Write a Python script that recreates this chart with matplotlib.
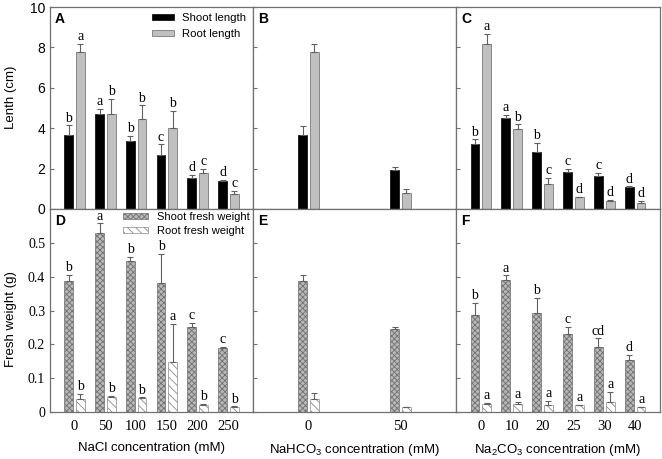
import numpy as np
import matplotlib.pyplot as plt

plt.rcParams["font.family"] = ["Liberation Sans", "DejaVu Sans"]
plt.rcParams["mathtext.default"] = "regular"
plt.rcParams["hatch.linewidth"] = 0.6

SERIF = ["Liberation Serif", "DejaVu Serif"]

# lengths (cm)
nacl_conc = ["0", "50", "100", "150", "200", "250"]
nahco3_conc = ["0", "50"]
na2co3_conc = ["0", "10", "20", "25", "30", "40"]

a_shoot = [3.68, 4.70, 3.38, 2.66, 1.52, 1.39]
a_shoot_err = [0.46, 0.25, 0.23, 0.54, 0.16, 0.06]
a_root = [7.75, 4.70, 4.44, 4.00, 1.78, 0.76]
a_root_err = [0.44, 0.76, 0.69, 0.87, 0.22, 0.13]
a_shoot_sig = ["b", "a", "b", "c", "d", "d"]
a_root_sig = ["a", "b", "b", "b", "c", "c"]

b_shoot = [3.68, 1.94]
b_shoot_err = [0.45, 0.13]
b_root = [7.75, 0.81]
b_root_err = [0.44, 0.16]

c_shoot = [3.22, 4.49, 2.80, 1.84, 1.63, 1.09]
c_shoot_err = [0.23, 0.16, 0.49, 0.15, 0.15, 0.03]
c_root = [8.19, 3.96, 1.23, 0.59, 0.41, 0.31]
c_root_err = [0.49, 0.23, 0.30, 0.02, 0.03, 0.08]
c_shoot_sig = ["b", "a", "b", "c", "c", "d"]
c_root_sig = ["a", "b", "c", "d", "d", "d"]

# fresh weights (g)
d_shoot = [0.387, 0.530, 0.447, 0.382, 0.250, 0.190]
d_shoot_err = [0.018, 0.028, 0.012, 0.085, 0.013, 0.003]
d_root = [0.038, 0.045, 0.042, 0.148, 0.022, 0.015]
d_root_err = [0.016, 0.002, 0.001, 0.112, 0.003, 0.002]
d_shoot_sig = ["b", "a", "b", "b", "c", "c"]
d_root_sig = ["b", "b", "b", "a", "b", "b"]

e_shoot = [0.387, 0.245]
e_shoot_err = [0.018, 0.006]
e_root = [0.038, 0.015]
e_root_err = [0.017, 0.001]

f_shoot = [0.287, 0.390, 0.292, 0.230, 0.193, 0.155]
f_shoot_err = [0.036, 0.014, 0.045, 0.021, 0.025, 0.013]
f_root = [0.025, 0.024, 0.022, 0.020, 0.030, 0.014]
f_root_err = [0.003, 0.006, 0.011, 0.001, 0.029, 0.001]
f_shoot_sig = ["b", "a", "b", "c", "cd", "d"]
f_root_sig = ["a", "a", "a", "a", "a", "a"]

W = 0.28
OFF = 0.19
SPINE = "#707070"
ERR = "#606060"

STYLE_LEN = [
    dict(color="black", edgecolor="black", linewidth=0.5),
    dict(color="#c0c0c0", edgecolor="#7a7a7a", linewidth=0.6),
]
STYLE_FW = [
    dict(color="#b8b8b8", edgecolor="#707070", hatch="xxxxxx", linewidth=0.5),
    dict(color="white", edgecolor="#8a8a8a", hatch="\\\\\\\\", linewidth=0.5),
]


def draw_panel(ax, pos, shoot, shoot_err, root, root_err, styles, labels,
               shoot_sig=None, root_sig=None):
    pos = np.asarray(pos, dtype=float)
    for k, (vals, errs) in enumerate([(shoot, shoot_err), (root, root_err)]):
        x = pos - OFF if k == 0 else pos + OFF
        ax.bar(x, vals, W, label=labels[k], zorder=2, **styles[k])
        ax.errorbar(x, vals, yerr=[np.zeros(len(vals)), errs], fmt="none",
                    ecolor=ERR, elinewidth=0.8, capsize=2.2, capthick=0.8, zorder=3)
        sig = shoot_sig if k == 0 else root_sig
        if sig:
            for xi, v, e, s in zip(x, vals, errs, sig):
                ax.annotate(s, (xi, v + e), xytext=(0, 0.5), textcoords="offset points",
                            ha="center", va="bottom", family=SERIF, fontsize=10)


def style_axes(ax, letter):
    for sp in ax.spines.values():
        sp.set_color(SPINE)
        sp.set_linewidth(0.9)
    ax.tick_params(axis="y", direction="in", length=3, color=SPINE, labelsize=10)
    ax.tick_params(axis="x", length=0)
    ax.text(0.025, 0.975, letter, transform=ax.transAxes, ha="left", va="top",
            fontsize=10, fontweight="bold")


fig = plt.figure(figsize=(6.62, 4.59), dpi=100)
FW, FH = 662, 459
lefts = [50, 253, 456]
widths = [203, 203, 204]
axes = {}
for r, (top, bottom) in enumerate([(7, 209), (209, 412)]):
    for c in range(3):
        ax = fig.add_axes([lefts[c] / FW, 1 - bottom / FH, widths[c] / FW, (bottom - top) / FH])
        axes[(r, c)] = ax

six = np.arange(6)
two = np.array([0, 3])
len_labels = ["Shoot length", "Root length"]
fw_labels = ["Shoot fresh weight", "Root fresh weight"]

# top row
draw_panel(axes[(0, 0)], six, a_shoot, a_shoot_err, a_root, a_root_err, STYLE_LEN, len_labels,
           a_shoot_sig, a_root_sig)
draw_panel(axes[(0, 1)], two, b_shoot, b_shoot_err, b_root, b_root_err, STYLE_LEN, len_labels)
draw_panel(axes[(0, 2)], six, c_shoot, c_shoot_err, c_root, c_root_err, STYLE_LEN, len_labels,
           c_shoot_sig, c_root_sig)

# bottom row
draw_panel(axes[(1, 0)], six, d_shoot, d_shoot_err, d_root, d_root_err, STYLE_FW, fw_labels,
           d_shoot_sig, d_root_sig)
draw_panel(axes[(1, 1)], two, e_shoot, e_shoot_err, e_root, e_root_err, STYLE_FW, fw_labels)
draw_panel(axes[(1, 2)], six, f_shoot, f_shoot_err, f_root, f_root_err, STYLE_FW, fw_labels,
           f_shoot_sig, f_root_sig)

for (r, c), ax in axes.items():
    style_axes(ax, "ABCDEF"[r * 3 + c])
    if c == 1:
        ax.set_xlim(-1.8, 4.8)
    else:
        ax.set_xlim(-0.8, 5.8)
    if r == 0:
        ax.set_ylim(0, 10)
        ax.set_yticks([0, 2, 4, 6, 8, 10])
        ax.set_xticks([])
    else:
        ax.set_ylim(0, 0.6)
        ax.set_yticks([0, 0.1, 0.2, 0.3, 0.4, 0.5])
        ax.set_yticklabels(["0", "0.1", "0.2", "0.3", "0.4", "0.5"], family=SERIF)
    if c > 0:
        ax.tick_params(axis="y", labelleft=False)

axes[(1, 0)].set_xticks(six, nacl_conc, family=SERIF, fontsize=10.5)
axes[(1, 1)].set_xticks(two, nahco3_conc, family=SERIF, fontsize=10.5)
axes[(1, 2)].set_xticks(six, na2co3_conc, family=SERIF, fontsize=10.5)
for ax in [axes[(1, 0)], axes[(1, 1)], axes[(1, 2)]]:
    ax.tick_params(axis="x", pad=6)

axes[(1, 0)].set_xlabel("NaCl concentration (mM)", fontsize=9.5, labelpad=6)
axes[(1, 1)].set_xlabel("NaHCO$_3$ concentration (mM)", fontsize=9.5, labelpad=6)
axes[(1, 2)].set_xlabel("Na$_2$CO$_3$ concentration (mM)", fontsize=9.5, labelpad=6)

fig.text(11 / FW, 1 - 97 / FH, "Lenth (cm)", rotation=90, ha="center", va="center", fontsize=9.5)
fig.text(11 / FW, 1 - 319 / FH, "Fresh weight (g)", rotation=90, ha="center", va="center", fontsize=9.5)

axes[(0, 0)].legend(loc="upper left", bbox_to_anchor=(0.50, 0.97), frameon=False,
                    fontsize=8.2, handlelength=2.0, handleheight=0.45,
                    handletextpad=0.7, labelspacing=0.5, borderpad=0, borderaxespad=0)
axes[(1, 0)].legend(loc="upper left", bbox_to_anchor=(0.36, 0.985), frameon=False,
                    fontsize=8, handlelength=2.25, handleheight=0.35,
                    handletextpad=0.8, labelspacing=0.35, borderpad=0, borderaxespad=0)

fig.savefig("out.png", dpi=100)
